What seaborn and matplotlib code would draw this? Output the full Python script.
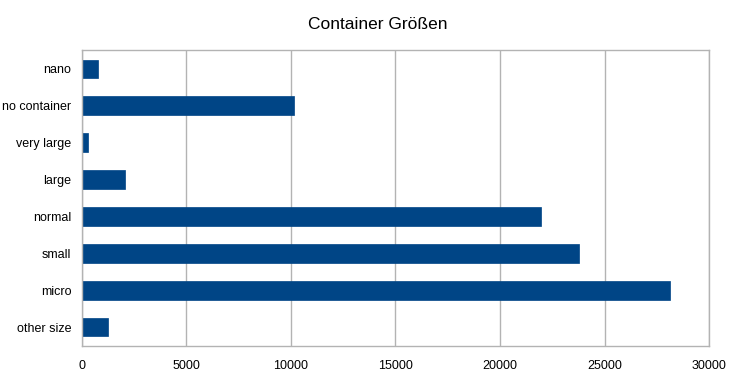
import numpy as np
import pandas as pd
import matplotlib
matplotlib.use('Agg')
import matplotlib.pyplot as plt
from matplotlib.ticker import FixedLocator
import seaborn as sns

# Data
categories = ['nano', 'no container', 'very large', 'large', 'normal', 'small', 'micro', 'other size']
counts = [770, 10150, 290, 2090, 21950, 23790, 28130, 1270]
x_ticks = [0, 5000, 10000, 15000, 20000, 25000, 30000]

df = pd.DataFrame({'size': categories, 'count': counts})

sns.set_style('white')
plt.rcParams['font.family'] = ['Liberation Sans', 'DejaVu Sans']
plt.rcParams['text.color'] = 'black'
plt.rcParams['xtick.labelcolor'] = 'black'
plt.rcParams['ytick.labelcolor'] = 'black'

fig = plt.figure(figsize=(7.56, 3.78), dpi=100)
ax = fig.add_axes([0.108, 0.0854, 0.830, 0.7816])

sns.barplot(data=df, x='count', y='size', orient='h', color='#004586',
            saturation=1, width=0.5, edgecolor='#004586', linewidth=0.5, ax=ax)

grey = '#b3b3b3'
ax.set_xlim(0, 30000)
ax.set_xticks(x_ticks)
ax.set_xticklabels([str(t) for t in x_ticks])
ax.set_ylim(len(categories) - 0.5, -0.5)
ax.yaxis.set_minor_locator(FixedLocator(np.arange(-0.5, len(categories), 1.0)))
ax.tick_params(axis='y', which='major', length=0, pad=7.5, labelsize=9, labelcolor='black')
ax.tick_params(axis='y', which='minor', length=6, width=1, color=grey)
ax.tick_params(axis='x', which='major', length=6, width=1, color=grey, pad=4, labelsize=9, labelcolor='black')
ax.grid(axis='x', color=grey, linewidth=1)
ax.set_axisbelow(True)
for s in ax.spines.values():
    s.set_visible(True)
    s.set_color(grey)
    s.set_linewidth(1)

ax.set_xlabel('')
ax.set_ylabel('')
fig.suptitle('Container Größen', fontsize=12.5, y=0.955, color='black')

fig.savefig('out.png', dpi=100)
